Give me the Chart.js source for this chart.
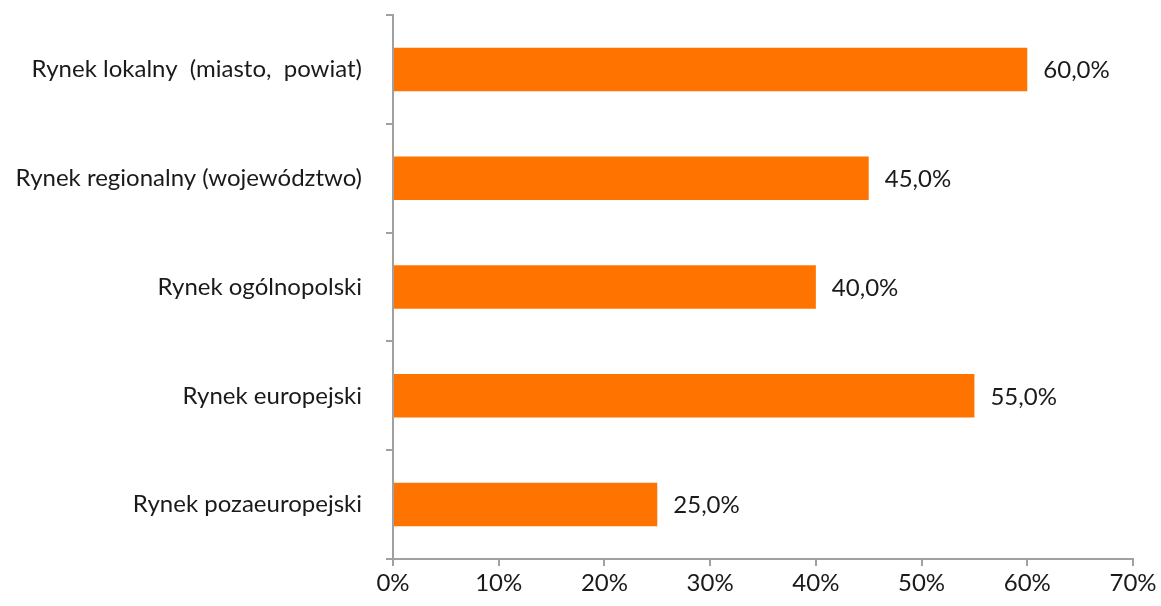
<!DOCTYPE html>
<html>
<head>
<meta charset="utf-8">
<script src="https://cdn.jsdelivr.net/npm/chart.js@4"></script>
<style>
    html, body { margin: 0; padding: 0; background: #fff; }
    #wrap { width: 1161px; height: 606px; }
</style>
</head>
<body>
<div id="wrap"><canvas id="markets"></canvas></div>
<script>
var categories = [
    "Rynek lokalny  (miasto,  powiat)",
    "Rynek regionalny (województwo)",
    "Rynek ogólnopolski",
    "Rynek europejski",
    "Rynek pozaeuropejski",
];
var shares = [60, 45, 40, 55, 25];
var tickStep = 10;
var tickMax = 70;

var fontFamily = "Lato, 'Open Sans', sans-serif";
var axisColor = "#a0a0a0";

// draws "60,0%" next to the end of each bar
var valueLabels = {
    id: "valueLabels",
    afterDatasetsDraw: function (chart) {
        var ctx = chart.ctx;
        var meta = chart.getDatasetMeta(0);
        ctx.save();
        ctx.font = "24px " + fontFamily;
        ctx.fillStyle = "#1a1a1a";
        ctx.textAlign = "left";
        ctx.textBaseline = "middle";
        meta.data.forEach(function (bar, i) {
            var text = shares[i].toFixed(1).replace(".", ",") + "%";
            ctx.fillText(text, bar.x + 16, bar.y + 1);
        });
        ctx.restore();
    },
};

var ctx = document.getElementById("markets").getContext("2d");
var myChart = new Chart(ctx, {
    type: "bar",
    data: {
        labels: categories,
        datasets: [
            {
                data: shares,
                backgroundColor: "#ff7300",
                categoryPercentage: 1,
                barPercentage: 0.4,
            },
        ],
    },
    options: {
        indexAxis: "y",
        responsive: true,
        maintainAspectRatio: false,
        animation: false,
        layout: {
            padding: { top: 15, right: 28, bottom: 0, left: 0 },
        },
        scales: {
            x: {
                min: 0,
                max: tickMax,
                border: { color: axisColor, width: 2 },
                grid: {
                    drawOnChartArea: false,
                    color: axisColor,
                    lineWidth: 2,
                    tickLength: 7,
                },
                ticks: {
                    stepSize: tickStep,
                    color: "#1a1a1a",
                    padding: 3,
                    font: { family: fontFamily, size: 24 },
                    callback: function (value) {
                        return value + "%";
                    },
                },
                afterFit: function (scale) {
                    scale.height = 606 - 559;
                },
            },
            y: {
                border: { color: axisColor, width: 2 },
                grid: {
                    offset: true,
                    drawOnChartArea: false,
                    color: axisColor,
                    lineWidth: 2,
                    tickLength: 7,
                },
                ticks: {
                    color: "#1a1a1a",
                    padding: 24,
                    font: { family: fontFamily, size: 24 },
                },
                afterFit: function (scale) {
                    scale.width = 393;
                    scale.paddingTop = 0;
                    scale.paddingBottom = 0;
                },
            },
        },
        plugins: {
            legend: { display: false },
            tooltip: { enabled: false },
        },
    },
    plugins: [valueLabels],
});
</script>
</body>
</html>
